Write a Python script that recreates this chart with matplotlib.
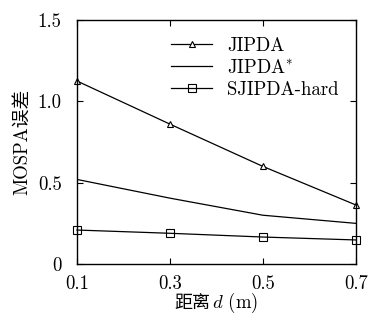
import matplotlib
matplotlib.use("Agg")
import matplotlib.pyplot as plt
from matplotlib.offsetbox import TextArea, HPacker, AnchoredOffsetbox

plt.rcParams['font.family'] = ['cmr10', 'Noto Sans CJK SC', 'DejaVu Sans']
plt.rcParams['mathtext.fontset'] = 'cm'
plt.rcParams['axes.formatter.use_mathtext'] = True

distance = [0.1, 0.3, 0.5, 0.7]
jipda = [1.125, 0.86, 0.60, 0.363]
jipda_star = [0.52, 0.405, 0.30, 0.25]
sjipda_hard = [0.209, 0.189, 0.166, 0.148]

xticks = [0.1, 0.3, 0.5, 0.7]
yticks = [0, 0.5, 1.0, 1.5]
yticklabels = ['0', '0.5', '1.0', '1.5']

FS = 13.5

fig = plt.figure(figsize=(3.68, 3.22), dpi=100)
ax = fig.add_axes([0.209, 0.180, 0.758, 0.758])

ax.plot(distance, jipda, color='black', lw=0.9, marker='^', ms=5,
        mfc='white', mec='black', mew=0.8, label='JIPDA', clip_on=False)
ax.plot(distance, jipda_star, color='black', lw=0.9, label='JIPDA$^{*}$')
ax.plot(distance, sjipda_hard, color='black', lw=0.9, marker='s', ms=5.5,
        mfc='none', mec='black', mew=0.8, label='SJIPDA-hard', clip_on=False)

ax.set_xlim(0.1, 0.7)
ax.set_ylim(0, 1.5)
ax.set_xticks(xticks)
ax.set_xticklabels([f'{v:.1f}' for v in xticks])
ax.set_yticks(yticks)
ax.set_yticklabels(yticklabels)
ax.tick_params(direction='in', top=True, right=True, length=4, width=0.8,
               labelsize=FS)
ax.tick_params(axis='x', pad=8)
ax.tick_params(axis='y', pad=11)
for s in ax.spines.values():
    s.set_linewidth(1.0)

# x label: Chinese text followed by an italic math d and the unit
xlab = HPacker(children=[
    TextArea('距离', textprops=dict(family=['Noto Sans CJK SC'], fontsize=FS - 0.5)),
    TextArea('$d$ (m)', textprops=dict(fontsize=FS)),
], align='baseline', pad=0, sep=1)
anchored = AnchoredOffsetbox(loc='center', child=xlab, frameon=False,
                             bbox_to_anchor=(216 / 368, 1 - 303 / 322),
                             bbox_transform=fig.transFigure, borderpad=0, pad=0)
fig.add_artist(anchored)

ax.set_ylabel('MOSPA误差', fontsize=FS, labelpad=5)

ax.legend(loc='upper right', frameon=False, fontsize=FS, handlelength=2.2,
          labelspacing=0.22, borderaxespad=0.5, handletextpad=0.8)

fig.savefig('out.png', dpi=100)
